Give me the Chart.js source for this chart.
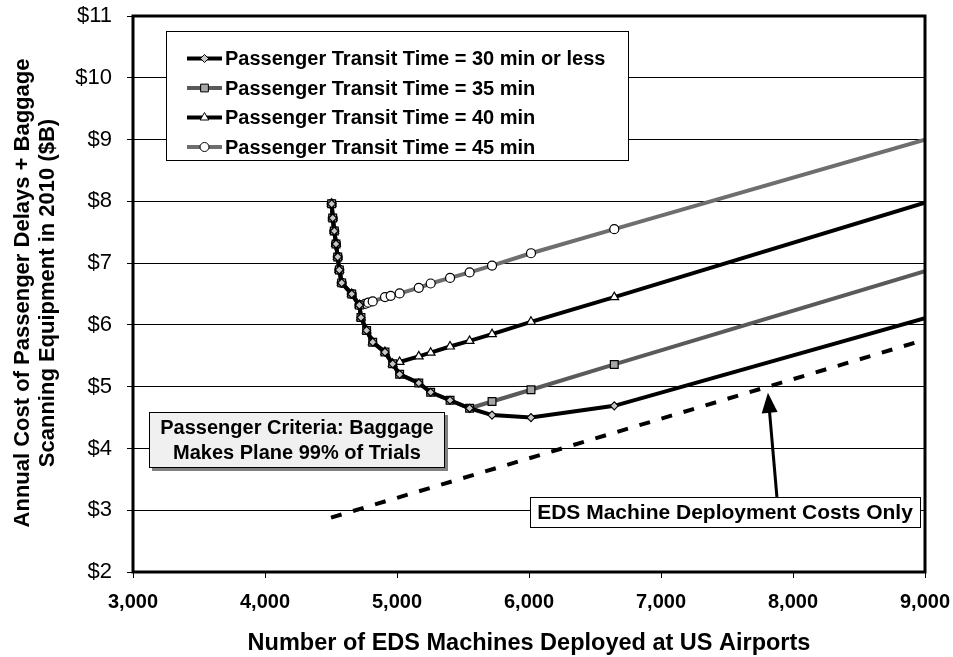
<!DOCTYPE html>
<html>
<head>
<meta charset="utf-8">
<script src="https://cdn.jsdelivr.net/npm/chart.js@4"></script>
<style>
  html, body { margin: 0; padding: 0; background: #fff; }
</style>
</head>
<body>
<canvas id="myChart" width="953" height="657"></canvas>
<script>
// values
const seriesLabels = [
  'Passenger Transit Time = 30 min or less',
  'Passenger Transit Time = 35 min',
  'Passenger Transit Time = 40 min',
  'Passenger Transit Time = 45 min'
];

const x30 = [4505, 4513, 4525, 4538, 4551, 4563, 4581, 4657, 4715, 4727, 4770, 4816, 4909, 4967, 5020, 5165, 5255, 5402, 5550, 5720, 6015, 6646, 9000];
const y30 = [7.96, 7.73, 7.52, 7.31, 7.10, 6.89, 6.68, 6.50, 6.32, 6.12, 5.91, 5.72, 5.56, 5.37, 5.20, 5.06, 4.91, 4.78, 4.65, 4.54, 4.50, 4.69, 6.11];

const x35 = [4505, 4513, 4525, 4538, 4551, 4563, 4581, 4657, 4715, 4727, 4770, 4816, 4909, 4967, 5020, 5165, 5255, 5402, 5550, 5720, 6015, 6646, 9000];
const y35 = [7.96, 7.73, 7.52, 7.31, 7.10, 6.89, 6.68, 6.50, 6.32, 6.12, 5.91, 5.72, 5.56, 5.37, 5.20, 5.06, 4.91, 4.78, 4.65, 4.76, 4.95, 5.36, 6.87];

const x40 = [4505, 4513, 4525, 4538, 4551, 4563, 4581, 4657, 4715, 4727, 4770, 4816, 4909, 4967, 5020, 5165, 5255, 5402, 5550, 5720, 6015, 6646, 9000];
const y40 = [7.96, 7.73, 7.52, 7.31, 7.10, 6.89, 6.68, 6.50, 6.32, 6.12, 5.91, 5.72, 5.56, 5.37, 5.40, 5.49, 5.55, 5.65, 5.74, 5.85, 6.05, 6.45, 7.98];

const x45 = [4505, 4513, 4525, 4538, 4551, 4563, 4581, 4657, 4715, 4758, 4783, 4816, 4909, 4952, 5020, 5165, 5255, 5402, 5550, 5720, 6015, 6646, 9000];
const y45 = [7.96, 7.73, 7.52, 7.31, 7.10, 6.89, 6.68, 6.50, 6.32, 6.34, 6.36, 6.38, 6.45, 6.47, 6.51, 6.60, 6.67, 6.76, 6.85, 6.96, 7.16, 7.55, 9.00];

const xDeploy = [4500, 6000, 7810, 9000];
const yDeploy = [2.88, 3.84, 5.00, 5.76];

const xTicks = [3000, 4000, 5000, 6000, 7000, 8000, 9000];
const yTicks = [2, 3, 4, 5, 6, 7, 8, 9, 10, 11];

const FONT = "'Liberation Sans', Arial, Helvetica, sans-serif";

const pts = (xs, ys) => xs.map((x, i) => ({ x: x, y: ys[i] }));
// no marker on the point where the line leaves the plot
const markerSize = r => ctx => (ctx.raw && ctx.raw.x >= 9000 ? 0 : r);

const styles = [
  { color: '#000000', point: 'rectRot', radius: 4, fill: '#c8c8c8' },
  { color: '#5a5a5a', point: 'rect', radius: 5.5, fill: '#a6a6a6' },
  { color: '#000000', point: 'triangle', radius: 5, fill: '#ffffff' },
  { color: '#6e6e6e', point: 'circle', radius: 4.5, fill: '#ffffff' }
];

const seriesX = [x30, x35, x40, x45];
const seriesY = [y30, y35, y40, y45];

const datasets = seriesLabels.map((label, i) => ({
  label: label,
  data: pts(seriesX[i], seriesY[i]),
  showLine: true,
  borderColor: styles[i].color,
  borderWidth: 4,
  pointStyle: styles[i].point,
  pointRadius: markerSize(styles[i].radius),
  pointBackgroundColor: styles[i].fill,
  pointBorderColor: '#000',
  pointBorderWidth: 1.2,
  tension: 0
}));

datasets.unshift({
  label: 'EDS Machine Deployment Costs Only',
  data: pts(xDeploy, yDeploy),
  showLine: true,
  borderColor: '#000',
  borderWidth: 4,
  borderDash: [11, 12],
  pointRadius: 0,
  tension: 0
});

function marker(ctx, style, x, y, r, fill) {
  ctx.save();
  ctx.beginPath();
  if (style === 'circle') {
    ctx.arc(x, y, r, 0, Math.PI * 2);
  } else if (style === 'rect') {
    const s = r * Math.SQRT1_2;
    ctx.rect(x - s, y - s, 2 * s, 2 * s);
  } else if (style === 'rectRot') {
    ctx.moveTo(x, y - r); ctx.lineTo(x + r, y); ctx.lineTo(x, y + r); ctx.lineTo(x - r, y);
    ctx.closePath();
  } else {
    for (let k = 0; k < 3; k++) {
      const a = k * 2 * Math.PI / 3;
      const px = x + Math.sin(a) * r, py = y - Math.cos(a) * r;
      if (k === 0) ctx.moveTo(px, py); else ctx.lineTo(px, py);
    }
    ctx.closePath();
  }
  ctx.fillStyle = fill;
  ctx.fill();
  ctx.lineWidth = 1;
  ctx.strokeStyle = '#000';
  ctx.stroke();
  ctx.restore();
}

const extras = {
  id: 'extras',
  afterDraw(chart) {
    const ctx = chart.ctx;
    const a = chart.chartArea;
    const xs = chart.scales.x, ys = chart.scales.y;

    // plot frame
    ctx.save();
    ctx.lineWidth = 3;
    ctx.strokeStyle = '#000';
    ctx.strokeRect(a.left, a.top, a.right - a.left, a.bottom - a.top);
    ctx.restore();

    // legend box
    ctx.save();
    ctx.fillStyle = '#fff';
    ctx.fillRect(166, 31, 462, 129);
    ctx.lineWidth = 1;
    ctx.strokeStyle = '#000';
    ctx.strokeRect(166.5, 31.5, 462, 129);
    ctx.font = 'bold 20px ' + FONT;
    ctx.textBaseline = 'middle';
    seriesLabels.forEach((label, i) => {
      const y = 58.5 + i * 29.5;
      ctx.beginPath();
      ctx.moveTo(187, y); ctx.lineTo(222, y);
      ctx.lineWidth = 4;
      ctx.strokeStyle = styles[i].color;
      ctx.stroke();
      marker(ctx, styles[i].point, 204.5, y, styles[i].radius, styles[i].fill);
      ctx.fillStyle = '#000';
      ctx.fillText(label, 225, y + 1);
    });
    ctx.restore();

    // criteria box with shadow
    ctx.save();
    ctx.fillStyle = '#808080';
    ctx.fillRect(152, 415, 296, 56);
    ctx.fillStyle = '#f0f0f0';
    ctx.fillRect(149, 412, 296, 56);
    ctx.lineWidth = 1;
    ctx.strokeStyle = '#000';
    ctx.strokeRect(149.5, 412.5, 295, 55);
    ctx.fillStyle = '#000';
    ctx.font = 'bold 20px ' + FONT;
    ctx.textAlign = 'center';
    ctx.textBaseline = 'middle';
    ctx.fillText('Passenger Criteria: Baggage', 297, 428);
    ctx.fillText('Makes Plane 99% of Trials', 297, 453);
    ctx.restore();

    // arrow to the deployment line
    const tipX = xs.getPixelForValue(7810), tipY = ys.getPixelForValue(4.9);
    const baseX = tipX + 9, baseY = 497;
    const ang = Math.atan2(tipY - baseY, tipX - baseX);
    ctx.save();
    ctx.strokeStyle = '#000';
    ctx.fillStyle = '#000';
    ctx.lineWidth = 3;
    ctx.beginPath();
    ctx.moveTo(baseX, baseY);
    ctx.lineTo(tipX - Math.cos(ang) * 14, tipY - Math.sin(ang) * 14);
    ctx.stroke();
    ctx.beginPath();
    ctx.moveTo(tipX, tipY);
    ctx.lineTo(tipX - Math.cos(ang) * 20 + Math.sin(ang) * 8, tipY - Math.sin(ang) * 20 - Math.cos(ang) * 8);
    ctx.lineTo(tipX - Math.cos(ang) * 20 - Math.sin(ang) * 8, tipY - Math.sin(ang) * 20 + Math.cos(ang) * 8);
    ctx.closePath();
    ctx.fill();
    ctx.restore();

    // deployment label
    ctx.save();
    ctx.fillStyle = '#fff';
    ctx.fillRect(530, 497, 391, 31);
    ctx.lineWidth = 1;
    ctx.strokeStyle = '#000';
    ctx.strokeRect(530.5, 497.5, 390, 30);
    ctx.fillStyle = '#000';
    ctx.font = 'bold 21px ' + FONT;
    ctx.textAlign = 'center';
    ctx.textBaseline = 'middle';
    ctx.fillText('EDS Machine Deployment Costs Only', 725, 513);
    ctx.restore();

    // axis titles
    ctx.save();
    ctx.fillStyle = '#000';
    ctx.font = 'bold 22px ' + FONT;
    ctx.textAlign = 'center';
    ctx.textBaseline = 'middle';
    ctx.translate(23, 293);
    ctx.rotate(-Math.PI / 2);
    ctx.fillText('Annual Cost of Passenger Delays + Baggage', 0, 0);
    ctx.fillText('Scanning Equipment in 2010 ($B)', 0, 25);
    ctx.restore();

    ctx.save();
    ctx.fillStyle = '#000';
    ctx.font = 'bold 23.5px ' + FONT;
    ctx.textAlign = 'center';
    ctx.textBaseline = 'middle';
    ctx.fillText('Number of EDS Machines Deployed at US Airports', (a.left + a.right) / 2, 644);
    ctx.restore();
  }
};

new Chart(document.getElementById('myChart'), {
  type: 'scatter',
  data: { datasets: datasets },
  options: {
    responsive: false,
    animation: false,
    layout: { padding: { top: 16, right: 28, left: 0, bottom: 0 } },
    plugins: {
      legend: { display: false },
      tooltip: { enabled: false }
    },
    scales: {
      x: {
        type: 'linear',
        min: 3000,
        max: 9000,
        afterFit: s => { s.height = 85; s.paddingLeft = 0; s.paddingRight = 0; },
        afterBuildTicks: s => { s.ticks = xTicks.map(v => ({ value: v })); },
        border: { display: false },
        grid: { drawOnChartArea: false, drawTicks: true, tickLength: 6, color: '#000' },
        ticks: {
          color: '#000',
          padding: 12,
          maxRotation: 0,
          font: { family: FONT, size: 20, weight: 'bold' },
          callback: v => v.toLocaleString('en-US')
        }
      },
      y: {
        type: 'linear',
        min: 2,
        max: 11,
        afterFit: s => { s.width = 133; s.paddingTop = 0; s.paddingBottom = 0; },
        afterBuildTicks: s => { s.ticks = yTicks.map(v => ({ value: v })); },
        border: { display: false },
        grid: { color: '#000', lineWidth: 1, drawTicks: true, tickLength: 6 },
        ticks: {
          color: '#000',
          padding: 15,
          font: { family: FONT, size: 22 },
          callback: v => '$' + v
        }
      }
    }
  },
  plugins: [extras]
});
</script>
</body>
</html>
